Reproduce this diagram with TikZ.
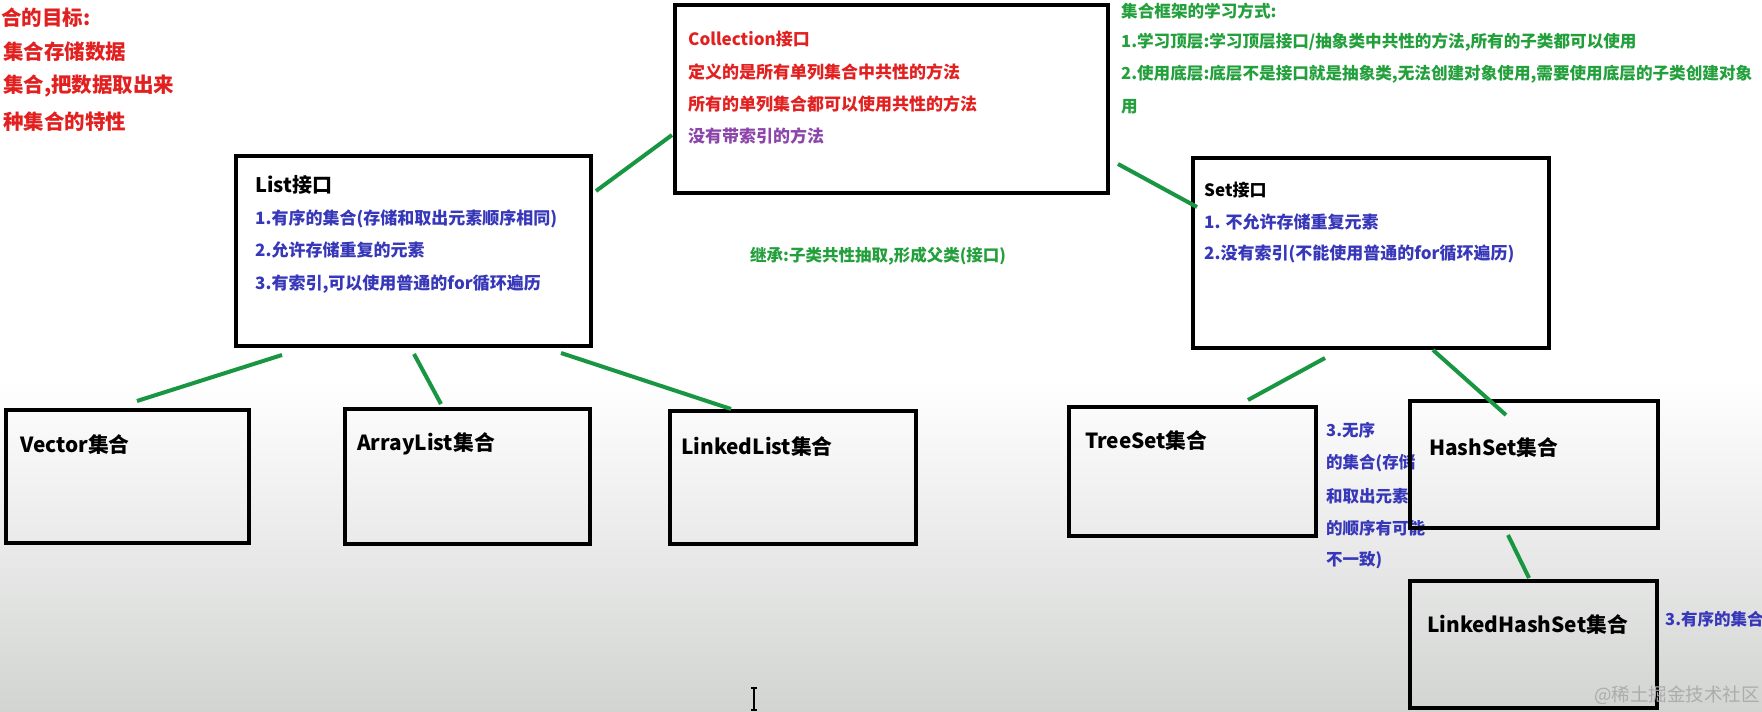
\documentclass[tikz,border=0pt]{standalone}
\usepackage{fontspec}
\setmainfont{Noto Sans CJK SC}
\definecolor{rd}{RGB}{226,32,32}
\definecolor{pu}{RGB}{140,70,170}
\definecolor{bl}{RGB}{55,55,185}
\definecolor{gr}{RGB}{35,160,60}
\definecolor{ln}{RGB}{25,150,65}
\definecolor{bgb}{RGB}{210,212,210}
\begin{document}
\begin{tikzpicture}[x=1pt,y=-1pt,
  box/.style={draw=black,line width=4.5pt,inner sep=0pt},
  conn/.style={draw=ln,line width=4pt},
  txt/.style={anchor=west,inner sep=0pt,font=\bfseries\fontsize{17}{20}\selectfont},
  note/.style={anchor=west,inner sep=0pt,text=gr,font=\bfseries\fontsize{16.6}{20}\selectfont},
  big/.style={anchor=west,inner sep=0pt,font=\bfseries\fontsize{20}{24}\selectfont},
  lab/.style={anchor=west,inner sep=0pt,font=\bfseries\fontsize{20.8}{24}\selectfont},
  red/.style={anchor=west,inner sep=0pt,text=rd,font=\bfseries\fontsize{20.5}{24}\selectfont},
  side/.style={anchor=west,inner sep=0pt,text=bl,font=\bfseries\fontsize{16.5}{20}\selectfont}]
\useasboundingbox (0,0) rectangle (1762,712);
\clip (0,0) rectangle (1762,712);
\fill[white] (0,0) rectangle (1762,712);
\shade[top color=white,bottom color=bgb] (0,380) rectangle (1762,712);

% top-left red notes
\node[red] (g1) at (1,18) {合的目标:};
\node[red] (g2) at (3,52) {集合存储数据};
\node[red] (g3) at (3,86) {集合,把数据取出来};
\node[red] (g4) at (3,122) {种集合的特性};

% top-right green notes
\node[note] (w1) at (1121,11) {集合框架的学习方式:};
\node[note] (w2) at (1121,42) {1.学习顶层:学习顶层接口/抽象类中共性的方法,所有的子类都可以使用};
\node[note] (w3) at (1121,74) {2.使用底层:底层不是接口就是抽象类,无法创建对象使用,需要使用底层的子类创建对象};
\node[note] (w4) at (1121,107) {用};

% middle green note
\node[note,font=\bfseries\fontsize{16.5}{20}\selectfont] (inh) at (750,256) {继承:子类共性抽取,形成父类(接口)};

% Collection
\node[txt,text=rd] (c1) at (688,39) {Collection接口};
\node[txt,text=rd] (c2) at (688,72) {定义的是所有单列集合中共性的方法};
\node[txt,text=rd] (c3) at (688,104) {所有的单列集合都可以使用共性的方法};
\node[txt,text=pu] (c4) at (688,136) {没有带索引的方法};

% List
\node[big] (l0) at (255,185) {List接口};
\node[txt,text=bl] (l1) at (255,219) {1.有序的集合(存储和取出元素顺序相同)};
\node[txt,text=bl] (l2) at (255,250) {2.允许存储重复的元素};
\node[txt,text=bl] (l3) at (255,284) {3.有索引,可以使用普通的for循环遍历};

% Set
\node[txt] (s0) at (1204,190) {Set接口};
\node[txt,text=bl] (s1) at (1204,222) {1. 不允许存储重复元素};
\node[txt,text=bl] (s2) at (1204,254) {2.没有索引(不能使用普通的for循环遍历)};

% bottom labels
\node[lab] (tv) at (20,445) {Vector集合};
\node[lab] (ta) at (357,444) {ArrayList集合};
\node[lab] (tl) at (681,447) {LinkedList集合};
\node[lab] (tt) at (1085,441) {TreeSet集合};
\node[lab] (th) at (1429,448) {HashSet集合};
\node[lab] (tk) at (1427,625) {LinkedHashSet集合};

% side notes
\node[side] (n1) at (1326,430) {3.无序};
\node[side] (n2) at (1326,463) {的集合(存储};
\node[side] (n3) at (1326,496) {和取出元素};
\node[side] (n4) at (1326,528) {的顺序有可能};
\node[side] (n5) at (1326,560) {不一致)};
\node[side] (n6) at (1665,619) {3.有序的集合};

% boxes
\node[box,minimum width=433pt,minimum height=188pt] (coll) at (891.5,99) {};
\node[box,minimum width=355pt,minimum height=190pt] (list) at (413.5,251) {};
\node[box,minimum width=356pt,minimum height=190pt] (set) at (1371,253) {};
\node[box,minimum width=243pt,minimum height=133pt] (vec) at (127.5,476.5) {};
\node[box,minimum width=245pt,minimum height=135pt] (arr) at (467.5,476.5) {};
\node[box,minimum width=246pt,minimum height=133pt] (lnk) at (793,477.5) {};
\node[box,minimum width=247pt,minimum height=129pt] (tree) at (1192.5,471.5) {};
\node[box,minimum width=248pt,minimum height=127pt] (hash) at (1534,464.5) {};
\node[box,minimum width=247pt,minimum height=127pt] (lhs) at (1533.5,644.5) {};

% connector ends
\coordinate (a1) at (596,191); \coordinate (a2) at (672,135);
\coordinate (b1) at (1118,164); \coordinate (b2) at (1197,207);
\coordinate (d1) at (282,355); \coordinate (d2) at (137,401);
\coordinate (e1) at (414,354); \coordinate (e2) at (441,404);
\coordinate (f1) at (561,353); \coordinate (f2) at (731,409);
\coordinate (h1) at (1325,358); \coordinate (h2) at (1248,400);
\coordinate (i1) at (1433,350); \coordinate (i2) at (1506,415);
\coordinate (j1) at (1508,535); \coordinate (j2) at (1529,578);
\draw[conn] (a1) -- (a2);
\draw[conn] (b1) -- (b2);
\draw[conn] (d1) -- (d2);
\draw[conn] (e1) -- (e2);
\draw[conn] (f1) -- (f2);
\draw[conn] (h1) -- (h2);
\draw[conn] (i1) -- (i2);
\draw[conn] (j1) -- (j2);

% watermark
\node[anchor=west,inner sep=0pt,text=gray!65,font=\fontsize{18.5}{20}\selectfont] (wm) at (1594,695) {@稀土掘金技术社区};

% text cursor
\coordinate (k1) at (754,688); \coordinate (k2) at (754,710);
\draw[line width=1.3pt] (k1) -- (k2);
\draw[line width=1.3pt] ([xshift=-3pt]k1) -- ([xshift=3pt]k1);
\draw[line width=1.3pt] ([xshift=-3pt]k2) -- ([xshift=3pt]k2);
\end{tikzpicture}
\end{document}
